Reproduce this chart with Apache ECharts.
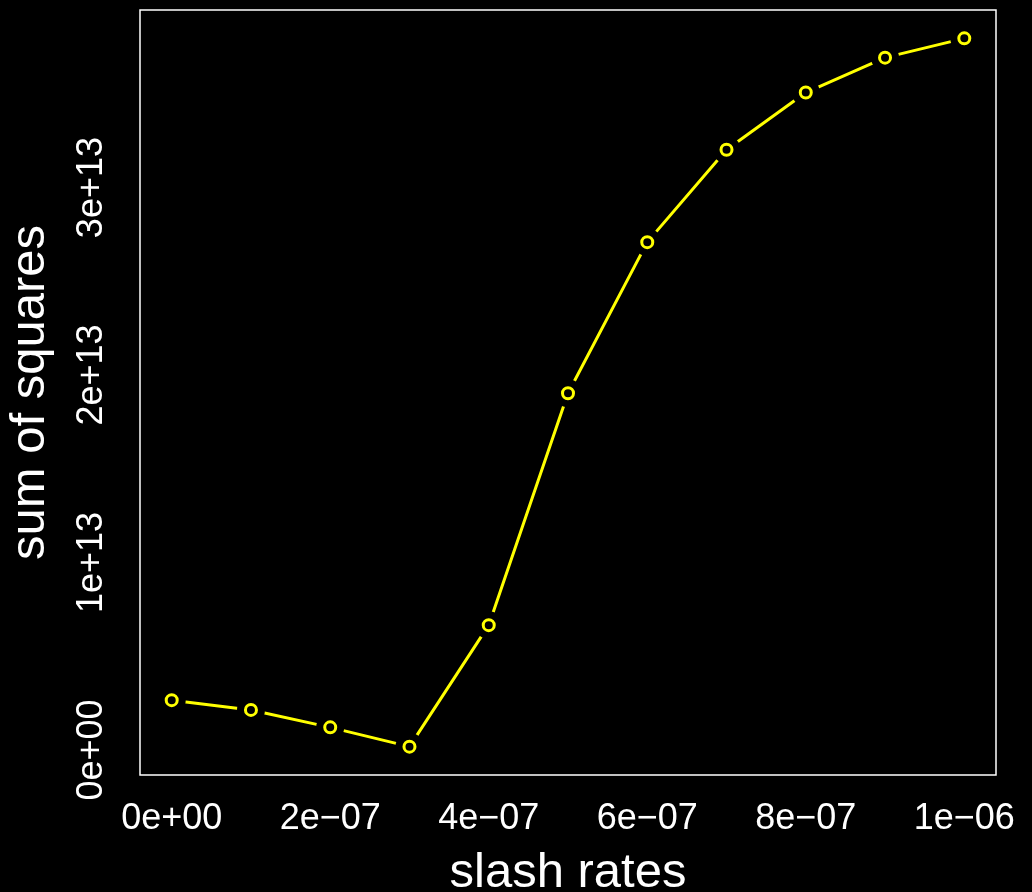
<!DOCTYPE html>
<html>
<head>
<meta charset="utf-8">
<script src="https://cdn.jsdelivr.net/npm/echarts@6/dist/echarts.min.js"></script>
<style>
  html, body { margin: 0; padding: 0; background: #000; }
  #chart { width: 1032px; height: 892px; }
</style>
</head>
<body>
<div id="chart"></div>
<script>
// slash rates (x) and sum of squares (y)
const slashRates = [0, 1e-7, 2e-7, 3e-7, 4e-7, 5e-7, 6e-7, 7e-7, 8e-7, 9e-7, 1e-6];
const sumSquares = [2.66e12, 2.14e12, 1.21e12, 1.8e11, 6.66e12, 1.903e13, 2.709e13, 3.202e13, 3.507e13, 3.693e13, 3.796e13];

const xTicks = [0, 2e-7, 4e-7, 6e-7, 8e-7, 1e-6];
const xTickLabels = ['0e+00', '2e\u221207', '4e\u221207', '6e\u221207', '8e\u221207', '1e\u221206'];
const yTicks = [0, 1e13, 2e13, 3e13];
const yTickLabels = ['0e+00', '1e+13', '2e+13', '3e+13'];

const font = 'Liberation Sans, Arial, Helvetica, sans-serif';
const yellow = '#ffff00';

// R style 4% padding on each side
function padRange(arr) {
  const lo = Math.min(...arr), hi = Math.max(...arr);
  const r = hi - lo;
  return [lo - 0.04 * r, hi + 0.04 * r];
}
const xr = padRange(slashRates);
const yr = padRange(sumSquares);

function labelFor(ticks, labels) {
  return function (v) {
    for (let i = 0; i < ticks.length; i++) {
      if (Math.abs(v - ticks[i]) <= Math.abs(ticks[1] - ticks[0]) * 1e-6) return labels[i];
    }
    return '';
  };
}

const points = slashRates.map((x, i) => [x, sumSquares[i]]);

const myChart = echarts.init(document.getElementById('chart'));
const options = {
  backgroundColor: '#000',
  animation: false,
  grid: {
    left: 140,
    right: 36,
    top: 10,
    bottom: 117,
    outerBoundsMode: 'none',
    containLabel: false,
    show: true,
    borderColor: '#fff',
    borderWidth: 1.5,
    backgroundColor: 'transparent',
  },
  xAxis: {
    type: 'value',
    min: xr[0],
    max: xr[1],
    axisLine: { show: false },
    axisTick: { show: false },
    splitLine: { show: false },
    axisLabel: {
      customValues: xTicks,
      formatter: labelFor(xTicks, xTickLabels),
      color: '#fff',
      fontSize: 36,
      fontFamily: font,
      margin: 26,
      showMinLabel: true,
      showMaxLabel: true,
    },
    name: 'slash rates',
    nameLocation: 'middle',
    nameGap: 74,
    nameTextStyle: { color: '#fff', fontSize: 49, fontFamily: font },
  },
  yAxis: {
    type: 'value',
    min: yr[0],
    max: yr[1],
    axisLine: { show: false },
    axisTick: { show: false },
    splitLine: { show: false },
    axisLabel: {
      customValues: yTicks,
      formatter: labelFor(yTicks, yTickLabels),
      rotate: 90,
      color: '#fff',
      fontSize: 36,
      fontFamily: font,
      margin: 30,
    },
    name: 'sum of squares',
    nameLocation: 'middle',
    nameRotate: 90,
    nameGap: 85,
    nameTextStyle: { color: '#fff', fontSize: 49, fontFamily: font },
  },
  series: [
    {
      type: 'line',
      data: points,
      showSymbol: false,
      lineStyle: { color: yellow, width: 3 },
      z: 1,
      silent: true,
    },
    {
      // black discs to leave gaps around points (type = "b")
      type: 'scatter',
      data: points,
      symbol: 'circle',
      symbolSize: 28,
      itemStyle: { color: '#000', opacity: 1 },
      z: 2,
      silent: true,
    },
    {
      type: 'scatter',
      data: points,
      symbol: 'circle',
      symbolSize: 11,
      itemStyle: { color: '#000', borderColor: yellow, borderWidth: 3, opacity: 1 },
      z: 3,
    },
  ],
};
myChart.setOption(options);
</script>
</body>
</html>
